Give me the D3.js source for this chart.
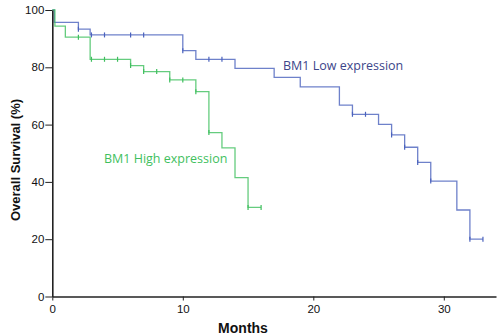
<html>
<script src="https://cdnjs.cloudflare.com/ajax/libs/d3/7.8.5/d3.min.js"></script>
<style>
  body { margin: 0; background: #fff; }
  .tick text { font-family: "Liberation Sans", Arial, sans-serif; font-size: 11.5px; fill: #111; }
  .tick line, .domain { stroke: #222; }
</style>
<body>
  <svg width="500" height="336"></svg>
</body>
<script>
  // Kaplan-Meier steps: [month, survival %]
  var lowSteps = [[0, 100], [0.15, 95.7], [2, 93.3], [2.9, 91.3], [10, 85.8], [11, 82.8], [14, 79.6],
    [17, 76.5], [19, 73.2], [22, 66.8], [23, 63.6], [25, 60.1], [26, 56.4], [27, 52.1], [28, 46.8],
    [29, 40.3], [31, 30.2], [32, 20.0], [33, 20.0]];
  var lowCensor = [2, 3, 4, 6, 7, 10, 12, 13, 23, 24, 26, 27, 28, 29, 32, 33];

  var highSteps = [[0, 100], [0.2, 94.4], [1, 90.5], [2.9, 82.8], [6, 80.6], [7, 78.5], [9, 75.6],
    [11, 71.5], [12, 57.2], [13, 51.9], [14, 41.5], [15, 31.1], [16, 31.1]];
  var highCensor = [2, 3, 4, 5, 6, 7, 8, 9, 10, 11, 12, 15, 16];

  var xTicks = [0, 10, 20, 30];
  var yTicks = [0, 20, 40, 60, 80, 100];

  const svg = d3.select('svg');

  const x = d3.scaleLinear().domain([0, 34]).range([52.3, 496]);
  const y = d3.scaleLinear().domain([0, 100]).range([296.5, 10]);

  function survAt(steps, t) {
    var v = steps[0][1];
    steps.forEach(function(s) { if (s[0] <= t) v = s[1]; });
    return v;
  }

  const line = d3.line().x(d => x(d[0])).y(d => y(d[1])).curve(d3.curveStepAfter);

  function drawCurve(steps, censor, color) {
    svg.append('path')
      .attr('d', line(steps))
      .attr('fill', 'none')
      .attr('stroke', color)
      .attr('stroke-width', 1.3)
      .attr('stroke-opacity', 0.8);

    svg.selectAll(null)
      .data(censor)
      .enter()
      .append('line')
      .attr('x1', d => x(d)).attr('x2', d => x(d))
      .attr('y1', d => y(survAt(steps, d)) - 2.5)
      .attr('y2', d => y(survAt(steps, d)) + 2.5)
      .attr('stroke', color)
      .attr('stroke-width', 1.2);
  }

  drawCurve(lowSteps, lowCensor, '#4a62bd');
  drawCurve(highSteps, highCensor, '#3fbf5e');

  svg.append('g')
    .attr('transform', 'translate(0,' + y(0) + ')')
    .call(d3.axisBottom(x).tickValues(xTicks).tickSize(4).tickPadding(4).tickSizeOuter(0))
    .call(g => g.select('.domain').attr('stroke-width', 1.6));

  svg.append('g')
    .attr('transform', 'translate(' + x(0) + ',0)')
    .call(d3.axisLeft(y).tickValues(yTicks).tickSize(7).tickPadding(1).tickSizeOuter(0))
    .call(g => g.select('.domain').attr('stroke-width', 1.6));

  svg.append('text')
    .attr('x', 283).attr('y', 70)
    .attr('font-family', '"Open Sans", sans-serif')
    .attr('font-size', 12.5)
    .attr('fill', '#3c4589')
    .text('BM1 Low expression');

  svg.append('text')
    .attr('x', 104).attr('y', 163)
    .attr('font-family', '"Open Sans", sans-serif')
    .attr('font-size', 12.5)
    .attr('fill', '#3fbf5e')
    .text('BM1 High expression');

  svg.append('text')
    .attr('x', 243).attr('y', 333)
    .attr('text-anchor', 'middle')
    .attr('font-family', '"Liberation Sans", Arial, sans-serif')
    .attr('font-weight', 'bold')
    .attr('font-size', 14)
    .attr('fill', '#111')
    .text('Months');

  svg.append('text')
    .attr('transform', 'translate(20,160) rotate(-90)')
    .attr('text-anchor', 'middle')
    .attr('font-family', '"Liberation Sans", Arial, sans-serif')
    .attr('font-weight', 'bold')
    .attr('font-size', 13)
    .attr('fill', '#111')
    .text('Overall Survival (%)');
</script>
</html>
